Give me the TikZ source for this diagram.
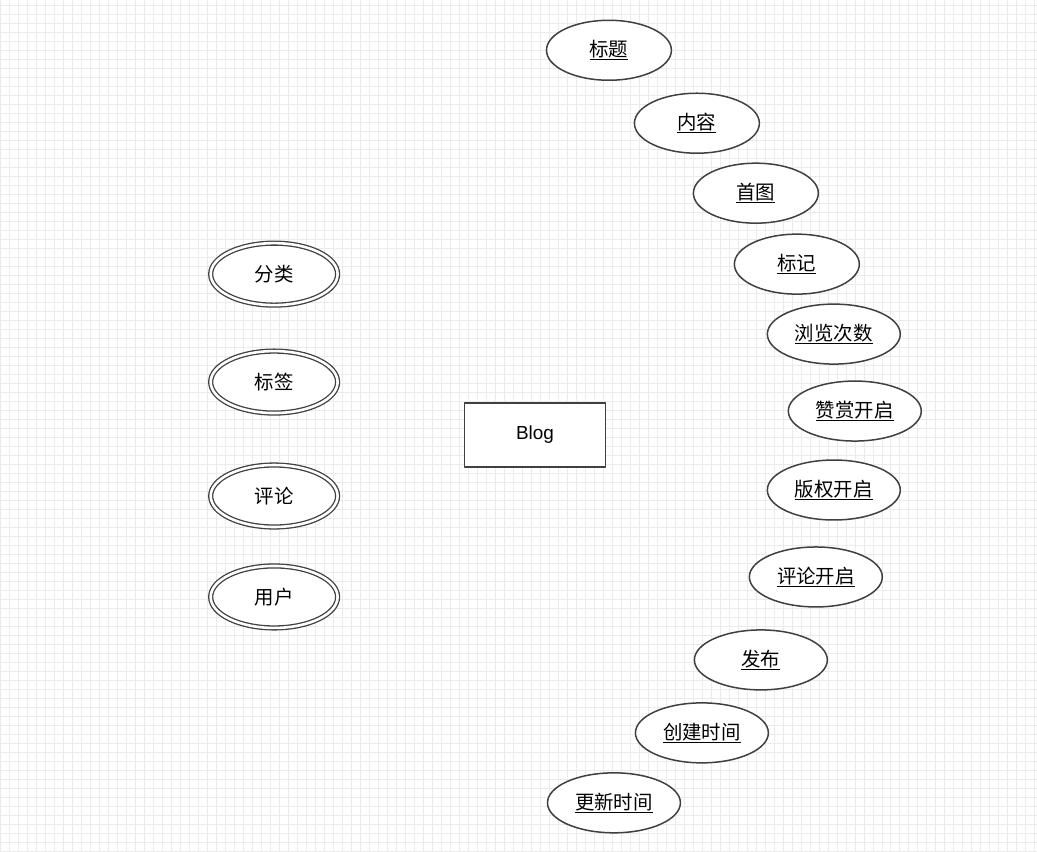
\documentclass[tikz,border=0pt]{standalone}
\usepackage{fontspec}
\setsansfont{Liberation Sans}
\newfontfamily\cjk{Noto Sans CJK SC}
\usetikzlibrary{shapes.geometric}
\begin{document}
\begin{tikzpicture}[line join=bevel,
  attr/.style={ellipse,draw=black!75,line width=1.5bp,fill=white,inner sep=0pt,
    minimum width=125bp,minimum height=60bp,font=\cjk\fontsize{19.5}{22}\selectfont},
  wideattr/.style={attr,minimum width=133bp},
  multi/.style={attr,double=white,double distance=2.6bp,line width=1.3bp,
    minimum width=127bp,minimum height=62bp},
  entity/.style={rectangle,draw=black!75,line width=1.5bp,fill=white,
    minimum width=141bp,minimum height=64bp,font=\sffamily\fontsize{19}{22}\selectfont}]
  % Background grid
  \fill[white] (0bp,0bp) rectangle (1037bp,851bp);
  \draw[black!8,line width=0.6bp,step=9bp] (0bp,0bp) grid (1037bp,851bp);
  \useasboundingbox (0bp,0bp) rectangle (1037bp,851bp);
  % Node: blog
  \node[entity] (blog) at (535bp,416bp) {Blog};
  % Node: multi-valued attributes
  \node[multi] (category) at (274bp,577bp) {分类};
  \node[multi] (tag) at (274bp,469bp) {标签};
  \node[multi] (comment) at (274bp,355bp) {评论};
  \node[multi] (user) at (274bp,254bp) {用户};
  % Node: attributes
  \node[attr] (title) at (609bp,801bp) {\underline{标题}};
  \node[attr] (content) at (697bp,728bp) {\underline{内容}};
  \node[attr] (picture) at (756bp,658bp) {\underline{首图}};
  \node[attr] (flag) at (797bp,587bp) {\underline{标记}};
  \node[wideattr] (views) at (834bp,517bp) {\underline{浏览次数}};
  \node[wideattr] (appreciation) at (855bp,440bp) {\underline{赞赏开启}};
  \node[wideattr] (shareinfo) at (834bp,361bp) {\underline{版权开启}};
  \node[wideattr] (commentable) at (816bp,274bp) {\underline{评论开启}};
  \node[wideattr] (published) at (761bp,191bp) {\underline{发布}};
  \node[wideattr] (createtime) at (702bp,118bp) {\underline{创建时间}};
  \node[wideattr] (updatetime) at (614bp,48bp) {\underline{更新时间}};
%
\end{tikzpicture}
\end{document}
